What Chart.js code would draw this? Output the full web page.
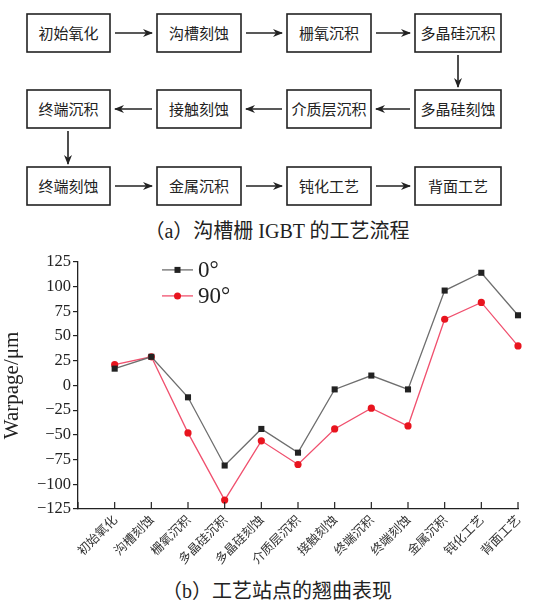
<!DOCTYPE html>
<html>
<head>
<meta charset="utf-8">
<script src="https://cdn.jsdelivr.net/npm/chart.js@4.4.1/dist/chart.umd.min.js"></script>
<style>
  body { margin: 0; background: #fff; }
  #wrap { position: relative; width: 554px; height: 607px; overflow: hidden; }
  #flow { position: absolute; left: 0; top: 0; }
  #chartBox { position: absolute; left: 0; top: 250px; width: 554px; height: 320px; }
  .cap { position: absolute; left: 0; width: 554px; text-align: center; font-family: "Liberation Serif", "Noto Sans CJK SC", serif; font-size: 20px; color: #222; }
</style>
</head>
<body>
<div id="wrap">
  <svg id="flow" width="554" height="245" xmlns="http://www.w3.org/2000/svg">
    <defs>
      <marker id="ah" markerWidth="10" markerHeight="8" refX="9" refY="4" orient="auto" markerUnits="userSpaceOnUse">
        <path d="M0,0 L10,4 L0,8 L3,4 z" fill="#222"/>
      </marker>
    </defs>
    <g id="boxes"></g>
  </svg>
  <div class="cap" style="top:215px">（a）沟槽栅 IGBT 的工艺流程</div>
  <div id="chartBox"><canvas id="myChart"></canvas></div>
  <div class="cap" style="top:575px">（b）工艺站点的翘曲表现</div>
</div>
<script>
// process flow (top diagram)
let flowRows = [
  ['初始氧化', '沟槽刻蚀', '栅氧沉积', '多晶硅沉积'],
  ['终端沉积', '接触刻蚀', '介质层沉积', '多晶硅刻蚀'],
  ['终端刻蚀', '金属沉积', '钝化工艺', '背面工艺']
];

// chart data
let categories = ['初始氧化', '沟槽刻蚀', '栅氧沉积', '多晶硅沉积', '多晶硅刻蚀', '介质层沉积',
  '接触刻蚀', '终端沉积', '终端刻蚀', '金属沉积', '钝化工艺', '背面工艺'];
let warp0 = [17, 29, -12, -81, -44, -68, -4, 10, -4, 96, 114, 71];
let warp90 = [21, 29, -48, -116, -56, -80, -44, -23, -41, 67, 84, 40];
let seriesNames = ['0°', '90°'];

// draw flow boxes
let svgNS = 'http://www.w3.org/2000/svg';
let g = document.getElementById('boxes');
let colX = [27, 157, 287, 415];
let colW = [83, 84, 84, 86];
let rowY = [14, 90, 167];
let boxH = 38;
function el(name, attrs, text) {
  let e = document.createElementNS(svgNS, name);
  for (let k in attrs) e.setAttribute(k, attrs[k]);
  if (text) e.textContent = text;
  g.appendChild(e);
  return e;
}
flowRows.forEach((row, r) => {
  row.forEach((name, c) => {
    el('rect', { x: colX[c], y: rowY[r], width: colW[c], height: boxH, fill: '#fff', stroke: '#222', 'stroke-width': 1.6 });
    el('text', { x: colX[c] + colW[c] / 2, y: rowY[r] + boxH / 2 + 5.5, 'text-anchor': 'middle',
      'font-family': 'Noto Sans CJK SC', 'font-size': 15, fill: '#222' }, name);
  });
  for (let c = 0; c < 3; c++) {
    let a = colX[c] + colW[c] + 5, b = colX[c + 1] - 5, y = rowY[r] + boxH / 2;
    let from = r === 1 ? b : a, to = r === 1 ? a : b;
    el('line', { x1: from, y1: y, x2: to, y2: y, stroke: '#222', 'stroke-width': 1.6, 'marker-end': 'url(#ah)' });
  }
});
el('line', { x1: 458, y1: 55, x2: 458, y2: 87, stroke: '#222', 'stroke-width': 1.6, 'marker-end': 'url(#ah)' });
el('line', { x1: 68, y1: 131, x2: 68, y2: 164, stroke: '#222', 'stroke-width': 1.6, 'marker-end': 'url(#ah)' });

let serif = '"Liberation Serif", "Times New Roman", serif';

// inward tick marks on the x axis + legend inside plot
let extras = {
  id: 'extras',
  afterDraw(chart) {
    let ctx = chart.ctx;
    let xs = chart.scales.x;
    let area = chart.chartArea;
    ctx.save();
    ctx.strokeStyle = '#222';
    ctx.lineWidth = 1.2;
    xs.ticks.forEach((t, i) => {
      let px = xs.getPixelForTick(i);
      ctx.beginPath();
      ctx.moveTo(px, area.bottom);
      ctx.lineTo(px, area.bottom - 7);
      ctx.stroke();
    });
    // legend
    chart.data.datasets.forEach((ds, i) => {
      let lx = area.left + 84, ly = area.top + 8 + i * 26;
      ctx.strokeStyle = ds.borderColor;
      ctx.lineWidth = 1.3;
      ctx.beginPath();
      ctx.moveTo(lx, ly);
      ctx.lineTo(lx + 31, ly);
      ctx.stroke();
      ctx.fillStyle = ds.pointBackgroundColor;
      if (ds.pointStyle === 'rect') {
        ctx.fillRect(lx + 12.5, ly - 3, 6, 6);
      } else {
        ctx.beginPath();
        ctx.arc(lx + 15.5, ly, 3.5, 0, Math.PI * 2);
        ctx.fill();
      }
      ctx.fillStyle = '#222';
      ctx.font = '23px ' + serif;
      ctx.textBaseline = 'middle';
      ctx.fillText(ds.label, lx + 36, ly + 1);
    });
    ctx.restore();
  }
};

let ctx = document.getElementById('myChart').getContext('2d');
let myChart = new Chart(ctx, {
  type: 'line',
  data: {
    datasets: [{
      label: seriesNames[0],
      data: warp0.map((v, i) => ({ x: i + 1, y: v })),
      borderColor: '#6e6e6e',
      borderWidth: 1.3,
      pointStyle: 'rect',
      pointRadius: 4.3,
      pointBackgroundColor: '#222',
      pointBorderWidth: 0,
      clip: false,
      tension: 0
    }, {
      label: seriesNames[1],
      data: warp90.map((v, i) => ({ x: i + 1, y: v })),
      borderColor: '#f0506e',
      borderWidth: 1.3,
      pointStyle: 'circle',
      pointRadius: 3.6,
      pointBackgroundColor: '#e8141e',
      pointBorderWidth: 0,
      clip: false,
      tension: 0
    }]
  },
  options: {
    responsive: true,
    maintainAspectRatio: false,
    animation: false,
    layout: { padding: { top: 10, right: 36, left: 0, bottom: 0 } },
    plugins: {
      legend: { display: false },
      tooltip: { enabled: false }
    },
    scales: {
      x: {
        type: 'linear',
        min: 0,
        max: 12,
        afterFit: (scale) => { scale.height = 61; },
        afterBuildTicks: (scale) => {
          scale.ticks = [0, 1, 2, 3, 4, 5, 6, 7, 8, 9, 10, 11, 12].map(v => ({ value: v }));
        },
        grid: { display: true, drawOnChartArea: false, drawTicks: false },
        border: { color: '#222', width: 1.3 },
        ticks: {
          autoSkip: false,
          maxRotation: 45,
          minRotation: 45,
          padding: 3,
          color: '#333',
          font: { family: 'Noto Sans CJK SC', size: 12.5 },
          callback: (v) => v >= 1 ? categories[v - 1] : ''
        }
      },
      y: {
        min: -125,
        max: 125,
        afterFit: (scale) => { scale.width = 78; },
        grid: { drawOnChartArea: false, tickLength: 5, color: '#222', lineWidth: 1.2 },
        border: { color: '#222', width: 1.3 },
        title: {
          display: true,
          text: 'Warpage/μm',
          color: '#222',
          padding: 0,
          font: { family: serif, size: 21 }
        },
        ticks: {
          stepSize: 25,
          padding: 2,
          color: '#222',
          font: { family: serif, size: 16.5 },
          callback: (v) => String(v).replace('-', '−')
        }
      }
    }
  },
  plugins: [extras]
});
</script>
</body>
</html>
